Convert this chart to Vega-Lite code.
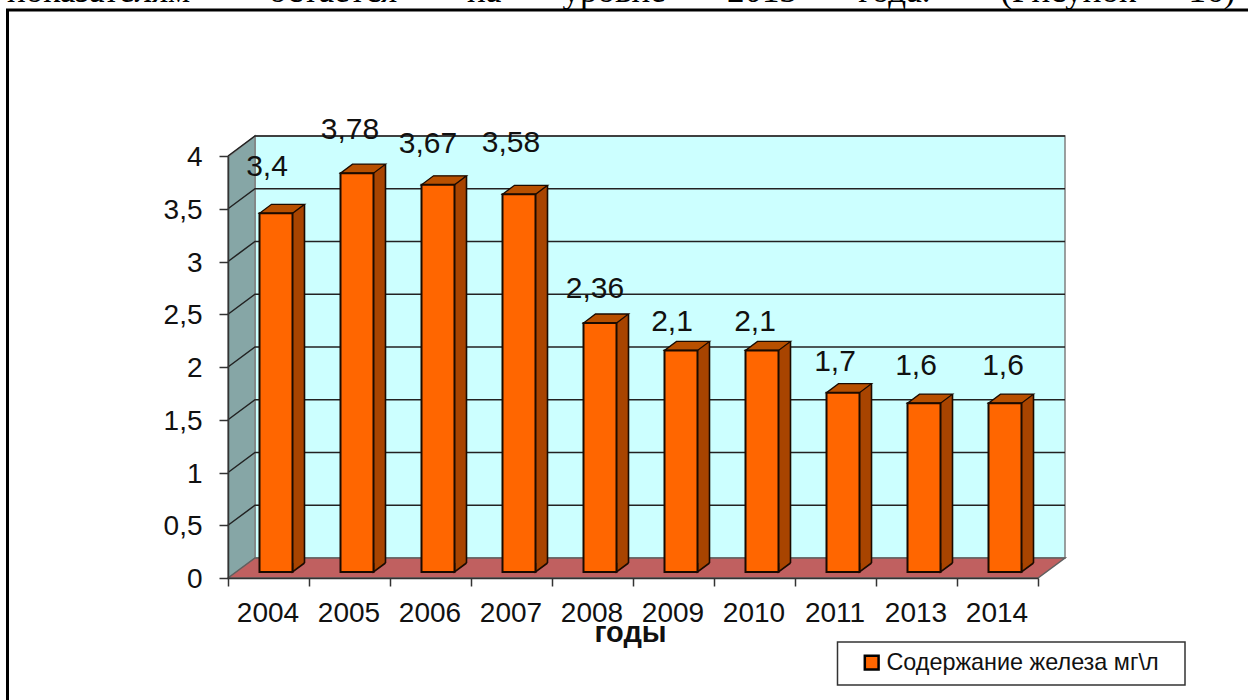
{
"$schema":"https://vega.github.io/schema/vega-lite/v6.json",
"width":810,"height":422,
"autosize":{"type":"none"},
"padding":{"left":228,"top":156,"right":210,"bottom":122},
"background":"white",
"config":{"view":{"stroke":null},"locale":{"number":{"decimal":",","thousands":" ","grouping":[3],"currency":["",""]}},"font":"Liberation Sans"},
"datasets":{
"iron":[{"year":"2004","value":3.4},{"year":"2005","value":3.78},{"year":"2006","value":3.67},{"year":"2007","value":3.58},{"year":"2008","value":2.36},{"year":"2009","value":2.1},{"year":"2010","value":2.1},{"year":"2011","value":1.7},{"year":"2013","value":1.6},{"year":"2014","value":1.6}],
"ticks":[{"tick":0.5},{"tick":1},{"tick":1.5},{"tick":2},{"tick":2.5},{"tick":3},{"tick":3.5},{"tick":4}]
},
"data":{"name":"iron"},
"layer":[
{"data":{"values":[{"line":"показателям\u00a0\u00a0\u00a0\u00a0\u00a0\u00a0\u00a0\u00a0\u00a0остается\u00a0\u00a0\u00a0\u00a0\u00a0\u00a0\u00a0\u00a0на\u00a0\u00a0\u00a0\u00a0\u00a0\u00a0\u00a0уровне\u00a0\u00a0\u00a0\u00a0\u00a0\u00a0\u00a02013\u00a0\u00a0\u00a0\u00a0\u00a0\u00a0\u00a0года.\u00a0\u00a0\u00a0\u00a0\u00a0\u00a0\u00a0\u00a0(Рисунок\u00a0\u00a0\u00a0\u00a0\u00a0\u00a016)"}]},"mark":{"type":"text","font":"Liberation Serif","fontSize":35,"color":"black","align":"left","baseline":"alphabetic","dx":-626,"dy":-365,"limit":2000},"encoding":{"text":{"field":"line","type":"nominal"}}},
{"data":{"values":[{"part":"frame"}]},"mark":{"type":"point","shape":"M-625.5,340L-625.5,-357L620,-357","size":4,"filled":false,"stroke":"black","strokeWidth":3,"opacity":1},"encoding":{}},
{"data":{"values":[{"part":"back wall"}]},"mark":{"type":"point","shape":"M-378,-231L432,-231L432,191L-378,191Z","size":4,"filled":true,"fill":"#ccffff","stroke":"#808080","strokeWidth":1.5,"opacity":1},"encoding":{}},
{"data":{"values":[{"part":"left wall"}]},"mark":{"type":"point","shape":"M-405,-210L-378,-231L-378,191L-405,211Z","size":4,"filled":true,"fill":"#86a6a6","stroke":"#808080","strokeWidth":1.5,"opacity":1},"encoding":{}},
{"data":{"values":[{"part":"floor"}]},"mark":{"type":"point","shape":"M-405,211L-378,191L432,191L405,211Z","size":4,"filled":true,"fill":"#c06060","stroke":"#606060","strokeWidth":1.5,"opacity":1},"encoding":{}},
{"data":{"name":"ticks"},"mark":{"type":"point","shape":"M-40.5,0L-13.5,-20L796.5,-20","size":4,"filled":false,"stroke":"#222222","strokeWidth":1.5,"opacity":1},
"encoding":{"x":{"datum":"2004","type":"nominal","scale":{"type":"band","domain":["2004","2005","2006","2007","2008","2009","2010","2011","2013","2014"],"paddingInner":0,"paddingOuter":0},"title":null,"axis":{"zindex":1,"labelAngle":0,"tickBand":"extent","tickSize":8,"tickColor":"#333333","tickWidth":1.5,"domainColor":"#333333","domainWidth":1.5,"labelFontSize":28,"labelColor":"#111111","labelPadding":13,"labelBaseline":"top","labelOffset":-1,"title":"годы","titleFontSize":29,"titleFontWeight":"bold","titleColor":"#111111","titleX":402,"titleY":54,"titleBaseline":"middle","titleAlign":"center"}},
"y":{"field":"tick","type":"quantitative","scale":{"domain":[0,4],"nice":false},"title":null,"axis":{"zindex":1,"values":[0,0.5,1,1.5,2,2.5,3,3.5,4],"format":"~g","grid":false,"tickSize":9,"tickColor":"#333333","tickWidth":1.5,"domainColor":"#333333","domainWidth":1.5,"labelFontSize":28,"labelColor":"#111111","labelPadding":17,"labelOffset":1.5}}}},
{"mark":{"type":"bar","width":33,"xOffset":19.5,"yOffset":-15,"y2Offset":-15,"fill":"#a84400"},"encoding":{"x":{"field":"year","type":"nominal"},"y":{"field":"value","type":"quantitative","stack":null},"y2":{"datum":0}}},
{"mark":{"type":"point","shape":"M24,-15L24,-6L36,-15","size":4,"filled":true,"fill":"#a84400","stroke":"#1a0a00","strokeWidth":1.6,"opacity":1},"encoding":{"x":{"field":"year","type":"nominal"},"y":{"datum":0}}},
{"mark":{"type":"rule","xOffset":36,"yOffset":-15,"y2Offset":-15,"stroke":"#1a0a00","strokeWidth":1.6},"encoding":{"x":{"field":"year","type":"nominal"},"y":{"field":"value","type":"quantitative"},"y2":{"datum":0}}},
{"mark":{"type":"point","shape":"M-9,-6L24,-6L36,-15L3,-15Z","size":4,"filled":true,"fill":"#b85000","stroke":"#1a0a00","strokeWidth":1.3,"opacity":1},"encoding":{"x":{"field":"year","type":"nominal"},"y":{"field":"value","type":"quantitative"}}},
{"mark":{"type":"bar","width":33,"xOffset":7.5,"yOffset":-6,"y2Offset":-6,"stroke":"#1a0a00","strokeWidth":2},"encoding":{"x":{"field":"year","type":"nominal"},"y":{"field":"value","type":"quantitative","stack":null},"y2":{"datum":0},
"color":{"datum":"Содержание железа мг\\л","type":"nominal","scale":{"range":["#ff6600"]},"legend":{"title":null,"orient":"none","legendX":632,"legendY":495,"padding":0,"symbolType":"square","symbolSize":190,"symbolStrokeColor":"black","symbolStrokeWidth":2.5,"labelFontSize":23.4,"labelColor":"#111111","labelOffset":3,"labelLimit":500,"labelFont":"Liberation Sans"}}}},
{"mark":{"type":"text","fontSize":30,"color":"#111111","baseline":"middle","align":"center",
"dy":{"expr":"{'2004':-52,'2005':-49,'2006':-47,'2007':-57,'2008':-40,'2009':-34.5,'2010':-34.5,'2011':-36.5,'2013':-43,'2014':-43}[datum.year]"},
"dx":{"expr":"{'2004':-1.5,'2005':0.5,'2006':-2.5,'2007':-0.5,'2008':2.5,'2009':-1.5,'2010':0.5,'2011':-0.5,'2013':-0.5,'2014':5.5}[datum.year]"}},
"encoding":{"x":{"field":"year","type":"nominal"},"y":{"field":"value","type":"quantitative"},"text":{"field":"value","type":"quantitative","format":"~g"}}},
{"data":{"values":[{"part":"legend box"}]},"mark":{"type":"point","shape":"M204.5,275L552,275L552,318L204.5,318Z","size":4,"filled":false,"stroke":"#333333","strokeWidth":1.5,"opacity":1},"encoding":{}}
]
}
